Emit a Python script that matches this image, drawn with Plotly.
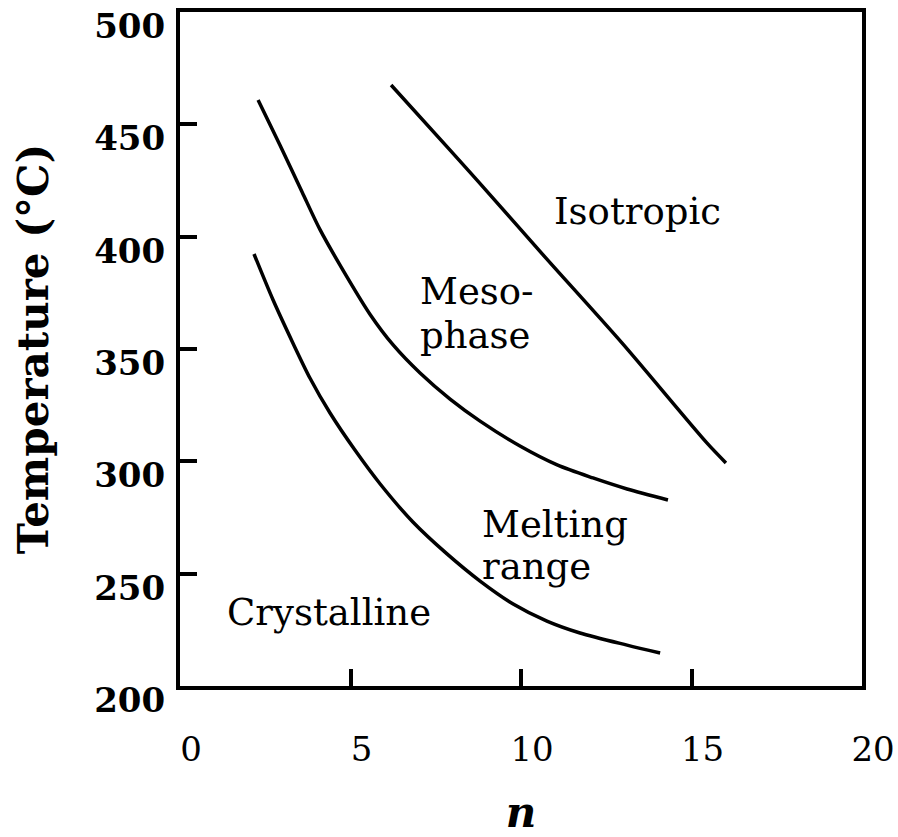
import plotly.graph_objects as go

# Phase boundaries versus spacer length n (temperatures in °C)
iso_n = [6.19, 7.92, 8.71, 10.70, 12.96, 15.45, 16.01]
iso_t = [467.5, 438.5, 425.2, 391.0, 352.7, 308.2, 299.3]

meso_n = [2.29, 2.93, 3.58, 4.11, 4.90, 5.57, 6.25, 7.04, 7.92, 8.80, 9.97,
          11.06, 12.11, 13.11, 14.31]
meso_t = [460.8, 440.8, 419.9, 403.0, 382.0, 365.5, 351.8, 339.3, 327.7, 317.9,
          306.8, 298.4, 292.6, 287.7, 282.8]

melt_n = [2.17, 2.73, 3.31, 3.81, 4.40, 5.13, 5.87, 6.83, 7.83, 8.80, 9.77,
          10.76, 11.73, 13.11, 14.08]
melt_t = [392.3, 371.8, 352.7, 337.1, 321.5, 305.0, 289.9, 273.0, 258.8, 246.7,
          236.5, 228.9, 223.6, 218.2, 214.7]

# Region labels: text, left edge n, vertical centre T
region_text = ["Isotropic", "Meso-", "phase", "Melting", "range", "Crystalline"]
region_n = [10.91, 6.98, 6.98, 8.80, 8.80, 1.32]
region_t = [411.0, 375.8, 355.8, 272.1, 253.0, 232.9]

x_ticks = [0, 5, 10, 15, 20]
y_ticks = [200, 250, 300, 350, 400, 450, 500]

FONT = "DejaVu Serif"

fig = go.Figure()
for xs, ys in [(iso_n, iso_t), (meso_n, meso_t), (melt_n, melt_t)]:
    fig.add_trace(go.Scatter(x=xs, y=ys, mode="lines",
                             line=dict(color="black", width=3.5,
                                       shape="spline", smoothing=0.8),
                             showlegend=False, hoverinfo="skip"))

for txt, xv, yv in zip(region_text, region_n, region_t):
    fig.add_annotation(x=xv, y=yv, xref="x", yref="y", text=txt, showarrow=False,
                       xanchor="left", yanchor="middle",
                       font=dict(family=FONT, size=37, color="black"))

fig.update_xaxes(range=[0, 20], tickvals=x_ticks, ticks="inside", ticklen=17,
                 tickwidth=4, tickcolor="black", showline=True, linewidth=4,
                 linecolor="black", mirror=True, showgrid=False, zeroline=False,
                 automargin=False,
                 tickfont=dict(family=FONT, size=34, color="black"),
                 ticklabelstandoff=30, ticklabelshift=11,
                 title=dict(text="n", standoff=46,
                            font=dict(family=FONT, size=42, color="black",
                                      weight="bold", style="italic")))
fig.update_yaxes(range=[200, 500], tickvals=y_ticks, ticks="inside", ticklen=17,
                 tickwidth=4, tickcolor="black", showline=True, linewidth=4,
                 linecolor="black", mirror=True, showgrid=False, zeroline=False,
                 automargin=False,
                 tickfont=dict(family=FONT, size=34, color="black", weight="bold"),
                 ticklabelstandoff=4, ticklabelshift=14,
                 title=dict(text="Temperature (°C)", standoff=34,
                            font=dict(family=FONT, size=42, color="black",
                                      weight="bold")))

fig.update_layout(width=898, height=837, margin=dict(l=180, r=36, t=12, b=151),
                  paper_bgcolor="white", plot_bgcolor="white")

fig.write_html("out.html")
